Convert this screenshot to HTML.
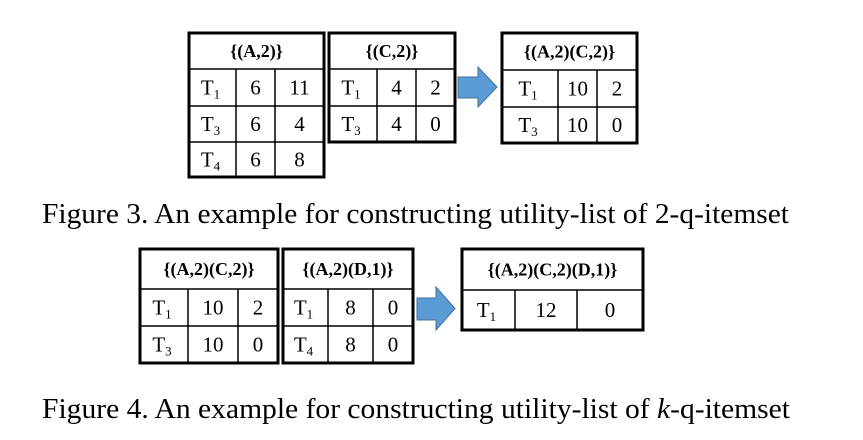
<!DOCTYPE html>
<html><head><meta charset="utf-8"><style>
html,body{margin:0;padding:0;background:#fff;}
svg{display:block;font-family:"Liberation Serif",serif;}
</style></head><body>
<svg id="s" width="863" height="440" viewBox="0 0 863 440"></svg>
<script>
const NS="http://www.w3.org/2000/svg";
const svg=document.getElementById('s');
function el(t,a,p){const e=document.createElementNS(NS,t);for(const k in a)e.setAttribute(k,a[k]);(p||svg).appendChild(e);return e;}
const tables=[
 {name:'table-a2',title:'{(A,2)}',x:[189,236,275,324],y:[33,69,106,142,177],rows:[['1','6','11'],['3','6','4'],['4','6','8']]},
 {name:'table-c2',title:'{(C,2)}',x:[329,377,416,455],y:[33,69,106,142],rows:[['1','4','2'],['3','4','0']]},
 {name:'table-a2c2',title:'{(A,2)(C,2)}',x:[502,558,597,637],y:[33,70,107,143],rows:[['1','10','2'],['3','10','0']]},
 {name:'table-a2c2-input',title:'{(A,2)(C,2)}',x:[140,188,238,278],y:[249,289,326,363],rows:[['1','10','2'],['3','10','0']]},
 {name:'table-a2d1',title:'{(A,2)(D,1)}',x:[283,328,373,413],y:[249,289,326,363],rows:[['1','8','0'],['4','8','0']]},
 {name:'table-a2c2d1',title:'{(A,2)(C,2)(D,1)}',x:[462,515,577,643],y:[249,290,330],rows:[['1','12','0']]}
];
tables.forEach(t=>{
 const g=el('g',{});
 
 
 const x0=t.x[0],x3=t.x[3],y0=t.y[0],yN=t.y[t.y.length-1];
 for(let i=1;i<t.y.length-1;i++){el('line',{x1:x0,x2:x3,y1:t.y[i],y2:t.y[i],stroke:'#000','stroke-width':1.5},g);}
 for(let r=0;r<t.rows.length;r++){
  for(let c=1;c<3;c++)el('line',{x1:t.x[c],x2:t.x[c],y1:t.y[r+1],y2:t.y[r+2],stroke:'#000','stroke-width':1.5},g);
 }
 el('rect',{x:x0,y:y0,width:x3-x0,height:yN-y0,fill:'none',stroke:'#000','stroke-width':3},g);
 const h=el('text',{x:(x0+x3)/2,y:(t.y[0]+t.y[1])/2+6,'text-anchor':'middle','font-size':18,'font-weight':'bold'},g);
 h.textContent=t.title;
 
 
 t.rows.forEach((row,r)=>{
  const cy=(t.y[r+1]+t.y[r+2])/2+7;
  const tt=el('text',{x:(t.x[0]+t.x[1])/2-2,y:cy,'text-anchor':'middle','font-size':21},g);
  tt.textContent='T';
  const sub=el('tspan',{'font-size':13,dy:4},tt);sub.textContent=row[0];
  
  
  for(let c=1;c<3;c++){
   const v=el('text',{x:(t.x[c]+t.x[c+1])/2,y:cy,'text-anchor':'middle','font-size':21},g);
   v.textContent=row[c];
   
   
  }
 });
});
const arrows=[{x0:458,xh:478,x1:497,b0:77,b1:98,h0:67,h1:107},{x0:417,xh:436,x1:455,b0:298,b1:320,h0:287,h1:330}];
arrows.forEach(a=>{
 const p=el('polygon',{points:`${a.x0},${a.b0} ${a.xh},${a.b0} ${a.xh},${a.h0} ${a.x1},${(a.h0+a.h1)/2} ${a.xh},${a.h1} ${a.xh},${a.b1} ${a.x0},${a.b1}`,fill:'#5b9bd5',stroke:'#41719c','stroke-width':1});
 
 
});
const c1=el('text',{x:42,y:223,'font-size':29,textLength:747,lengthAdjust:'spacingAndGlyphs'});
c1.textContent='Figure 3. An example for constructing utility-list of 2-q-itemset';


const c2=el('text',{x:42,y:418,'font-size':29,textLength:748,lengthAdjust:'spacingAndGlyphs'});
c2.innerHTML='Figure 4. An example for constructing utility-list of <tspan font-style="italic">k</tspan>-q-itemset';


</script>
</body></html>
